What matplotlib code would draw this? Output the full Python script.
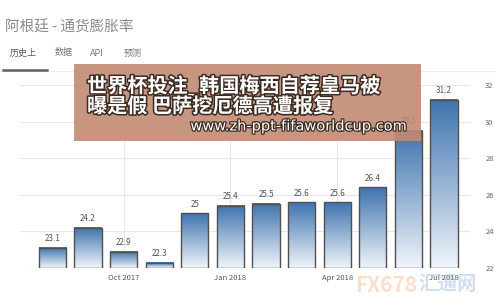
import numpy as np
import matplotlib
matplotlib.use("Agg")
import matplotlib.pyplot as plt
import matplotlib.patheffects as pe
from matplotlib.colors import LinearSegmentedColormap
from matplotlib.patches import Rectangle
from matplotlib.lines import Line2D

plt.rcParams['font.family'] = ['Noto Sans CJK SC', 'DejaVu Sans']

# data: Argentina inflation rate, Aug 2017 - Jul 2018
months = ['Aug 2017', 'Sep 2017', 'Oct 2017', 'Nov 2017', 'Dec 2017', 'Jan 2018',
          'Feb 2018', 'Mar 2018', 'Apr 2018', 'May 2018', 'Jun 2018', 'Jul 2018']
values = [23.1, 24.2, 22.9, 22.3, 25.0, 25.4, 25.5, 25.6, 25.6, 26.4, 29.5, 31.2]
value_labels = ['23.1', '24.2', '22.9', '22.3', '25', '25.4', '25.5', '25.6', '25.6', '26.4', '29.5', '31.2']
xtick_idx = [2, 5, 8, 11]
xtick_labels = ['Oct 2017', 'Jan 2018', 'Apr 2018', 'Jul 2018']
yticks = [22, 24, 26, 28, 30, 32]

W, H = 495, 308
fig = plt.figure(figsize=(W / 100, H / 100), dpi=100)
fig.patch.set_facecolor('white')

def fx(px):
    return px / W

def fy(py):
    return 1 - py / H

ax = fig.add_axes([fx(20), fy(268), fx(470) - fx(20), fy(85) - fy(268)])
base = 22
x = np.arange(len(values))
cmap = LinearSegmentedColormap.from_list('g', ['#f0f4fa', '#3f74ae'])
grad = np.linspace(0, 1, 100).reshape(-1, 1)

bars = ax.bar(x, np.array(values) - base, bottom=base, width=0.76,
              facecolor='none', edgecolor='#505050', linewidth=1.0, zorder=3)
for rect in bars:
    x0, w, h = rect.get_x(), rect.get_width(), rect.get_height()
    ax.imshow(grad, extent=[x0, x0 + w, base, base + h], origin='lower',
              aspect='auto', cmap=cmap, zorder=2, interpolation='bilinear')

for xi, v, lab in zip(x, values, value_labels):
    ax.text(xi, v + 0.25, lab, ha='center', va='bottom', fontsize=5.8,
            color='#555555', zorder=4)

ax.set_xlim(-0.91, 11.73)
ax.set_ylim(22, 32)
ax.yaxis.tick_right()
ax.set_yticks(yticks)
ax.set_yticklabels([str(t) for t in yticks], fontsize=5.5, color='#666666')
ax.set_xticks(xtick_idx)
ax.set_xticklabels(xtick_labels, fontsize=5.5, color='#555555')
ax.tick_params(axis='both', length=0)
ax.tick_params(axis='y', pad=11)
ax.tick_params(axis='x', pad=4)
ax.grid(True, color='#e8e8e8', linewidth=0.8, zorder=0)
ax.set_axisbelow(True)
for s in ax.spines.values():
    s.set_visible(False)

# header
fig.text(fx(5), fy(28), '阿根廷 - 通货膨胀率', fontsize=10.5, color='#8a8a8a',
         ha='left', va='center')
tabs = [('历史上', 10, '#555555'), ('数据', 55, '#777777'),
        ('API', 90, '#777777'), ('预测', 124, '#777777')]
for t, px, c in tabs:
    fig.text(fx(px), fy(53), t, fontsize=6.5, color=c, ha='left', va='center')
fig.add_artist(Line2D([fx(0), fx(495)], [fy(70.5), fy(70.5)], color='#ececec', lw=0.8))
fig.add_artist(Line2D([fx(3), fx(47)], [fy(69.5), fy(69.5)], color='#606060', lw=1.8))

# watermark
fig.text(fx(355), fy(285), 'FX678', fontsize=15, color='#f3b990', alpha=0.45,
         ha='left', va='center', fontweight='bold')
fig.text(fx(418), fy(285), '汇通网', fontsize=14, color='#9bb8dc', alpha=0.45,
         ha='left', va='center', fontweight='bold')

# overlay banner
fig.add_artist(Rectangle((fx(74), fy(141)), fx(421) - fx(74), fy(64) - fy(141),
                         transform=fig.transFigure, facecolor='#c28a72',
                         alpha=0.9, edgecolor='none', zorder=10))
stroke = [pe.withStroke(linewidth=2.2, foreground='#3b2b22')]
fig.text(fx(87), fy(86), '世界杯投注_韩国梅西自荐皇马被', fontsize=14.5,
         color='white', fontweight='bold', ha='left', va='center',
         path_effects=stroke, zorder=11)
fig.text(fx(87), fy(106), '曝是假 巴萨挖厄德高遭报复', fontsize=14.5,
         color='white', fontweight='bold', ha='left', va='center',
         path_effects=stroke, zorder=11)
fig.text(fx(408), fy(126), 'www.zh-ppt-fifaworldcup.com', fontsize=10.5,
         color='white', ha='right', va='center', family='DejaVu Sans',
         path_effects=[pe.withStroke(linewidth=1.8, foreground='#3b2b22')], zorder=11)

fig.savefig('out.png', dpi=100)
